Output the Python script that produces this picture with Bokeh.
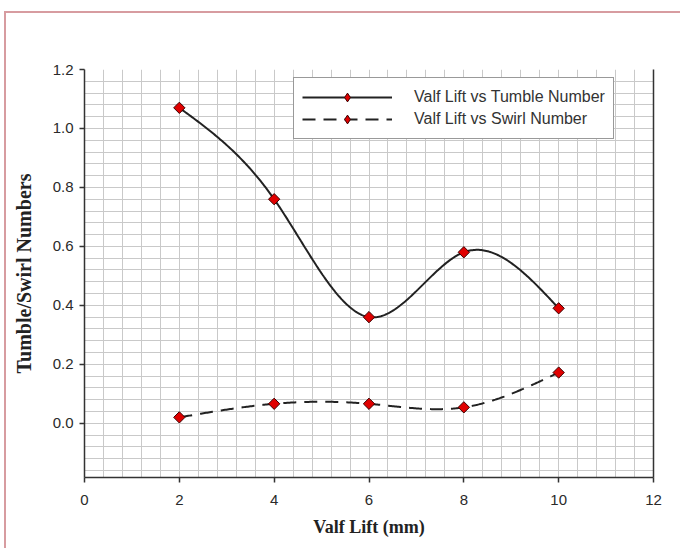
import numpy as np
from bokeh.plotting import figure
from bokeh.models import (Range1d, LinearAxis, SingleIntervalTicker, FixedTicker,
                          Legend, LegendItem, ColumnDataSource)
from bokeh.embed import file_html
from bokeh.resources import INLINE

# ---- data ----
lift_mm = [2, 4, 6, 8, 10]
tumble_number = [1.07, 0.76, 0.36, 0.58, 0.39]
swirl_number = [0.02, 0.066, 0.066, 0.054, 0.172]
x_ticks = [0, 2, 4, 6, 8, 10, 12]
y_ticks = [0.0, 0.2, 0.4, 0.6, 0.8, 1.0, 1.2]
y_tick_labels = {0.0: "0.0", 0.2: "0.2", 0.4: "0.4", 0.6: "0.6", 0.8: "0.8", 1.0: "1.0", 1.2: "1.2"}


def natural_spline(xs, ys, n=300):
    x = np.asarray(xs, float)
    y = np.asarray(ys, float)
    k = len(x)
    h = np.diff(x)
    A = np.zeros((k, k))
    b = np.zeros(k)
    A[0, 0] = A[-1, -1] = 1.0
    for i in range(1, k - 1):
        A[i, i - 1] = h[i - 1]
        A[i, i] = 2 * (h[i - 1] + h[i])
        A[i, i + 1] = h[i]
        b[i] = 3 * ((y[i + 1] - y[i]) / h[i] - (y[i] - y[i - 1]) / h[i - 1])
    c = np.linalg.solve(A, b)
    bc = (y[1:] - y[:-1]) / h - h * (2 * c[:-1] + c[1:]) / 3
    d = (c[1:] - c[:-1]) / (3 * h)
    xx = np.linspace(x[0], x[-1], n)
    idx = np.clip(np.searchsorted(x, xx) - 1, 0, k - 2)
    dx = xx - x[idx]
    yy = y[idx] + bc[idx] * dx + c[idx] * dx ** 2 + d[idx] * dx ** 3
    return xx, yy


p = figure(width=680, height=548, output_backend="svg", toolbar_location=None,
           x_range=Range1d(0, 12), y_range=Range1d(-0.184, 1.2),
           min_border_left=84, min_border_right=27,
           min_border_top=69, min_border_bottom=71,
           background_fill_color="white", border_fill_alpha=0)
p.outline_line_color = None
# page frame (pink rule at the left and top of the scanned page), drawn behind the canvas
FRAME = "#d79ca0"
p.styles = {
    "background": (f"linear-gradient({FRAME},{FRAME}) 4px 11px / 2px 537px no-repeat, "
                   f"linear-gradient({FRAME},{FRAME}) 4px 11px / 100% 2px no-repeat, white"),
}

# grid
p.xgrid.ticker = SingleIntervalTicker(interval=0.4)
p.ygrid.ticker = SingleIntervalTicker(interval=0.04)
for g in (p.xgrid, p.ygrid):
    g.grid_line_color = "#c9c9c9"
    g.grid_line_width = 1

# axes
for ax in (p.xaxis[0], p.yaxis[0]):
    ax.axis_line_color = "#333333"
    ax.axis_line_width = 1.5
    ax.major_tick_line_color = "#333333"
    ax.major_tick_line_width = 1.5
    ax.major_tick_out = 5
    ax.major_tick_in = 0
    ax.minor_tick_line_color = None
    ax.major_label_text_font = "Liberation Sans"
    ax.major_label_text_font_size = "15px"
    ax.major_label_text_color = "#2a2a2a"
    ax.axis_label_text_font = "Liberation Serif"
    ax.axis_label_text_font_style = "bold"
    ax.axis_label_text_color = "#222222"

p.xaxis.ticker = FixedTicker(ticks=x_ticks)
p.yaxis.ticker = FixedTicker(ticks=y_ticks)
p.yaxis.major_label_overrides = y_tick_labels
p.xaxis.axis_label = "Valf Lift (mm)"
p.yaxis.axis_label = "Tumble/Swirl Numbers"
p.xaxis.axis_label_text_font_size = "18px"
p.yaxis.axis_label_text_font_size = "20px"
p.xaxis.major_label_standoff = 12
p.yaxis.major_label_standoff = 6
p.xaxis.axis_label_standoff = 9
p.yaxis.axis_label_standoff = 15

right = LinearAxis(ticker=FixedTicker(ticks=[]), major_label_text_font_size="0px",
                   axis_line_color="#333333", axis_line_width=1.5,
                   major_tick_line_color=None, minor_tick_line_color=None)
p.add_layout(right, "right")

# data
tx, ty = natural_spline(lift_mm, tumble_number)
sx, sy = natural_spline(lift_mm, swirl_number)
l1 = p.line(tx, ty, line_color="#222222", line_width=2)
l2 = p.line(sx, sy, line_color="#222222", line_width=2, line_dash="13 8")
marker_style = dict(fill_color="#e00000", line_color="#3a0000", line_width=1)
p.scatter(lift_mm, tumble_number, marker="square", angle=np.pi / 4, size=8, **marker_style)
p.scatter(lift_mm, swirl_number, marker="square", angle=np.pi / 4, size=8, **marker_style)

# legend-only marker renderer (diamond shape for the key), never visible in the plot area
key_src = ColumnDataSource(data=dict(x=[float("nan")], y=[float("nan")]))
k1 = p.scatter("x", "y", source=key_src, marker="diamond", size=14, **marker_style)

legend = Legend(items=[LegendItem(label="Valf Lift vs Tumble Number", renderers=[l1, k1], index=0),
                       LegendItem(label="Valf Lift vs Swirl Number", renderers=[l2, k1], index=0)],
                location=(209, 338))
legend.border_line_color = "#333333"
legend.border_line_width = 1.5
legend.background_fill_color = "white"
legend.background_fill_alpha = 1
legend.label_text_font = "Liberation Sans"
legend.label_text_font_size = "16px"
legend.label_text_color = "#333333"
legend.label_standoff = 22
legend.glyph_width = 90
legend.glyph_height = 22
legend.label_height = 20
legend.spacing = 0
legend.padding = 8
legend.margin = 0
p.add_layout(legend)

open("out.html", "w").write(file_html(p, INLINE))
